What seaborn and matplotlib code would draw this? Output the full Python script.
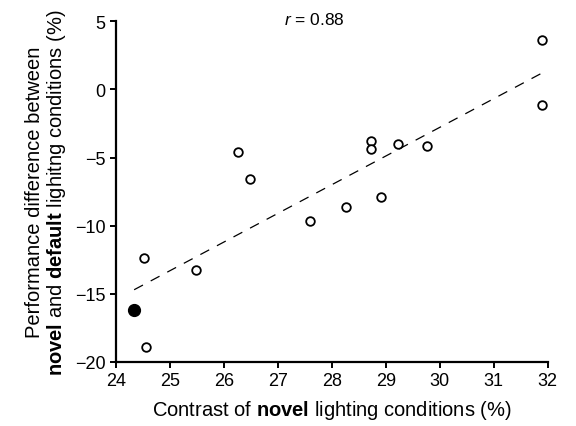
import matplotlib

matplotlib.use("Agg")
import matplotlib.pyplot as plt
import numpy as np
import pandas as pd
import seaborn as sns

# contrast of novel lighting (%) vs performance difference (%)
contrast_open = [24.53, 24.56, 25.49, 26.27, 26.49, 27.60, 28.26, 28.72, 28.72,
                 28.91, 29.23, 29.77, 31.89, 31.89]
perf_open = [-12.35, -18.90, -13.23, -4.58, -6.60, -9.69, -8.66, -3.77, -4.38,
             -7.93, -4.04, -4.14, 3.63, -1.16]
contrast_filled = [24.34]
perf_filled = [-16.17]

x_ticks = [24, 25, 26, 27, 28, 29, 30, 31, 32]
y_ticks = [-20, -15, -10, -5, 0, 5]

sns.set_theme(style="ticks")
plt.rcParams.update(
    {
        "font.family": ["Liberation Sans", "DejaVu Sans"],
        "mathtext.fontset": "custom",
        "mathtext.rm": "Liberation Sans",
        "mathtext.it": "Liberation Sans:italic",
        "mathtext.bf": "Liberation Sans:bold",
        "text.color": "black",
        "axes.labelcolor": "black",
    }
)

df = pd.DataFrame(
    {
        "contrast": contrast_open + contrast_filled,
        "perf": perf_open + perf_filled,
    }
)

fig = plt.figure(figsize=(5.76, 4.27), dpi=100)
ax = fig.add_axes([0.201, 0.150, 0.750, 0.798])

sns.regplot(
    data=df,
    x="contrast",
    y="perf",
    ci=None,
    scatter=False,
    truncate=True,
    line_kws={"color": "black", "linewidth": 0.9, "linestyle": (0, (8, 7))},
    ax=ax,
)
ax.plot(contrast_open, perf_open, "o", mfc="white", mec="black", mew=1.3, ms=6.2,
        linestyle="none")
ax.plot(contrast_filled, perf_filled, "o", color="black", ms=8.5, linestyle="none")

ax.set_xlim(24, 32)
ax.set_ylim(-20, 5)
ax.set_xticks(x_ticks)
ax.set_yticks(y_ticks)
ax.set_yticklabels([f"\u2212{abs(v)}" if v < 0 else str(v) for v in y_ticks])
ax.tick_params(labelsize=13, width=1.4, length=4, direction="out", colors="black")
for side in ["left", "bottom"]:
    ax.spines[side].set_linewidth(1.6)
    ax.spines[side].set_color("black")
sns.despine(ax=ax)

ax.set_xlabel(r"Contrast of $\bf{novel}$ lighting conditions (%)", fontsize=14.5,
              labelpad=6)
ax.set_ylabel("Performance difference between\n"
              r"$\bf{novel}$ and $\bf{default}$ lighitng conditions (%)",
              fontsize=14.5, labelpad=5, linespacing=1.05)
ax.text(0.39, 1.007, r"$\it{r}$ = 0.88", transform=ax.transAxes, fontsize=12.5,
        ha="left", va="center")

fig.savefig("out.png", dpi=100)
